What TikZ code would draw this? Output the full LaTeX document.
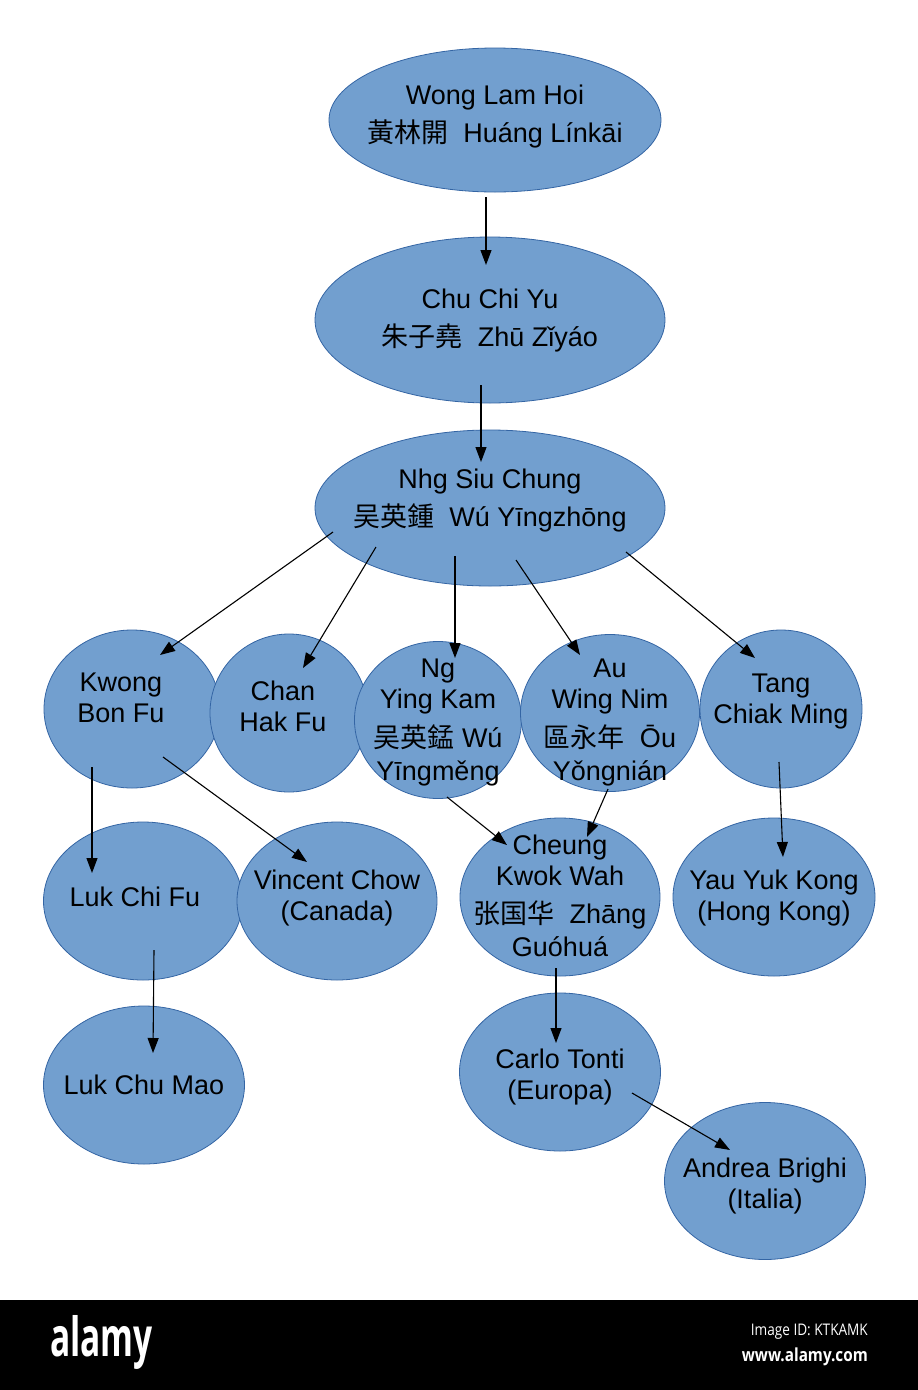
\documentclass[tikz,border=0pt]{standalone}
\usepackage{fontspec}
\setmainfont{Liberation Sans}
\newfontfamily\cjk{Noto Sans CJK SC}
\newfontfamily\barfont{Open Sans}
\usetikzlibrary{arrows.meta,shapes.geometric}
\definecolor{nodefill}{HTML}{729FCF}
\definecolor{nodeline}{HTML}{3465A4}
\begin{document}
\begin{tikzpicture}[x=1pt,y=-1pt,
  person/.style={ellipse, draw=nodeline, fill=nodefill, line width=0.8pt, inner sep=0pt},
  txt/.style={align=center, inner sep=0pt, text=black, font=\fontsize{27}{31}\selectfont},
  arr/.style={-{Triangle[length=15pt,width=11pt]}, line width=1.1pt, black}]
\useasboundingbox (0,0) rectangle (918,1390);
\fill[white] (0,0) rectangle (918,1300);

\node[person, minimum width=332pt, minimum height=144pt,
  label={[txt, yshift=3pt]center:{Wong Lam Hoi\\[7pt]{\cjk 黃林開}\ \ Huáng Línkāi}}] (wong) at (495,120) {};
\node[person, minimum width=350pt, minimum height=166pt,
  label={[txt, yshift=-1pt]center:{Chu Chi Yu\\[7pt]{\cjk 朱子堯}\ \ Zhū Zǐyáo}}] (chu) at (490,320) {};
\node[person, minimum width=350pt, minimum height=156pt,
  label={[txt, yshift=7pt]center:{Nhg Siu Chung\\[7pt]{\cjk 吴英鍾}\ \ Wú Yīngzhōng}}] (nhg) at (490,508) {};

\node[person, minimum width=176pt, minimum height=158pt,
  label={[txt, xshift=-11pt, yshift=11pt]center:{Kwong\\Bon Fu}}] (kwong) at (132,709) {};
\node[person, minimum width=158pt, minimum height=158pt,
  label={[txt, xshift=-6pt, yshift=7pt]center:{Chan\\Hak Fu}}] (chan) at (289,713) {};
\node[person, minimum width=167pt, minimum height=157pt,
  label={[txt, yshift=-3pt]center:{Ng\\Ying Kam\\[8pt]{\cjk 吴英錳} Wú\\[2pt]Yīngměng}}] (ng) at (438,720) {};
\node[person, minimum width=179pt, minimum height=157pt,
  label={[txt, yshift=-10pt]center:{Au\\Wing Nim\\[8pt]{\cjk 區永年}\ \ Ōu\\[2pt]Yǒngnián}}] (au) at (610,713) {};
\node[person, minimum width=162pt, minimum height=158pt,
  label={[txt, yshift=7pt]center:{Tang\\Chiak Ming}}] (tang) at (781,709) {};

\node[person, minimum width=199pt, minimum height=158pt,
  label={[txt, xshift=-8pt, yshift=4pt]center:{Luk Chi Fu}}] (lukcf) at (143,901) {};
\node[person, minimum width=200pt, minimum height=158pt,
  label={[txt, yshift=3pt]center:{Vincent Chow\\(Canada)}}] (vincent) at (337,901) {};
\node[person, minimum width=200pt, minimum height=158pt,
  label={[txt, yshift=1pt]center:{Cheung\\Kwok Wah\\[7pt]{\cjk 张国华}\ \ Zhāng\\[2pt]Guóhuá}}] (cheung) at (560,897) {};
\node[person, minimum width=202pt, minimum height=158pt,
  label={[txt, yshift=-1pt]center:{Yau Yuk Kong\\(Hong Kong)}}] (yau) at (774,897) {};

\node[person, minimum width=201pt, minimum height=158pt,
  label={[txt]center:{Luk Chu Mao}}] (lukcm) at (144,1085) {};
\node[person, minimum width=201pt, minimum height=158pt,
  label={[txt, yshift=-5pt]center:{Carlo Tonti\\(Europa)}}] (carlo) at (560,1072) {};
\node[person, minimum width=201pt, minimum height=157pt,
  label={[txt, yshift=-5pt]center:{Andrea Brighi\\(Italia)}}] (andrea) at (765,1181) {};

\draw[arr] ([shift={(-9,77)}]wong.center) -- ([shift={(-4,-55)}]chu.center);
\draw[arr] ([shift={(-9,65)}]chu.center) -- ([shift={(-9,-46)}]nhg.center);
\draw[arr] ([shift={(-157,24)}]nhg.center) -- ([shift={(28,-54)}]kwong.center);
\draw[arr] ([shift={(-114,39)}]nhg.center) -- ([shift={(14,-45)}]chan.center);
\draw[arr] ([shift={(-35,48)}]nhg.center) -- ([shift={(17,-62)}]ng.center);
\draw[arr] ([shift={(26,52)}]nhg.center) -- ([shift={(-30,-58)}]au.center);
\draw[arr] ([shift={(136,44)}]nhg.center) -- ([shift={(-26,-51)}]tang.center);
\draw[arr] ([shift={(-40,58)}]kwong.center) -- ([shift={(-51,-28)}]lukcf.center);
\draw[arr] ([shift={(31,48)}]kwong.center) -- ([shift={(-30,-39)}]vincent.center);
\draw[arr] ([shift={(9,77)}]ng.center) -- ([shift={(-53,-52)}]cheung.center);
\draw[arr] ([shift={(-2,76)}]au.center) -- ([shift={(27,-60)}]cheung.center);
\draw[arr] ([shift={(-2,53)}]tang.center) -- ([shift={(9,-40)}]yau.center);
\draw[arr] ([shift={(11,49)}]lukcf.center) -- ([shift={(9,-32)}]lukcm.center);
\draw[arr] ([shift={(-4,71)}]cheung.center) -- ([shift={(-4,-29)}]carlo.center);
\draw[arr] ([shift={(72,21)}]carlo.center) -- ([shift={(-35,-31)}]andrea.center);

\fill[black] (0,1300) rectangle (918,1390);
\node[inner sep=0pt, anchor=west, text=white, font=\barfont\bfseries\fontsize{54}{54}\selectfont, xscale=0.62] (logo) at (50,1342) {alamy};
\node[inner sep=0pt, anchor=east, text=white, font=\barfont\fontsize{16}{18}\selectfont, xscale=0.85] (imgid) at (868,1332) {Image ID: KTKAMK};
\node[inner sep=0pt, anchor=east, text=white, font=\barfont\bfseries\fontsize{18}{20}\selectfont, xscale=0.85] (www) at (868,1357) {www.alamy.com};
\end{tikzpicture}
\end{document}
